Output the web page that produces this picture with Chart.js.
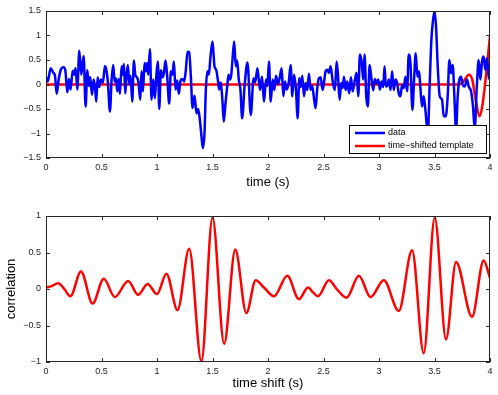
<!DOCTYPE html>
<html><head><meta charset="utf-8">
<script src="https://cdn.jsdelivr.net/npm/chart.js@4.4.0/dist/chart.umd.min.js"></script>
<style>
html,body{margin:0;padding:0;background:#fff;}
#w{position:relative;width:498px;height:395px;background:#fff;}
#c1{position:absolute;left:0;top:0;width:498px;height:200px;}
#c2{position:absolute;left:0;top:200px;width:498px;height:195px;}
</style></head><body>
<div id="w"><canvas id="c1" width="498" height="200"></canvas><canvas id="c2" width="498" height="195"></canvas></div>
<script>
// ---- data ----
const dataT = [0,0.015,0.042,0.066,0.081,0.096,0.114,0.135,0.156,0.174,0.192,0.207,0.222,0.24,0.252,0.267,0.282,0.3,0.318,0.339,0.357,0.372,0.387,0.399,0.414,0.429,0.441,0.453,0.465,0.48,0.495,0.513,0.531,0.546,0.558,0.576,0.591,0.606,0.618,0.63,0.642,0.654,0.666,0.681,0.693,0.702,0.714,0.726,0.738,0.75,0.762,0.777,0.792,0.804,0.819,0.834,0.849,0.861,0.873,0.888,0.9,0.912,0.921,0.936,0.951,0.966,0.981,0.993,1.008,1.02,1.035,1.05,1.062,1.077,1.092,1.11,1.125,1.14,1.152,1.167,1.182,1.197,1.212,1.23,1.245,1.26,1.275,1.29,1.305,1.32,1.338,1.356,1.371,1.386,1.398,1.413,1.428,1.44,1.455,1.467,1.482,1.5,1.518,1.533,1.548,1.56,1.575,1.59,1.602,1.617,1.632,1.644,1.656,1.668,1.68,1.695,1.71,1.722,1.737,1.752,1.767,1.79,1.815,1.845,1.87,1.885,1.905,1.928,1.946,1.964,1.982,1.994,2.009,2.024,2.042,2.057,2.072,2.09,2.105,2.123,2.138,2.153,2.168,2.186,2.204,2.219,2.234,2.252,2.267,2.282,2.294,2.309,2.324,2.339,2.354,2.369,2.384,2.399,2.414,2.429,2.444,2.459,2.474,2.492,2.504,2.519,2.534,2.549,2.564,2.576,2.588,2.603,2.618,2.63,2.645,2.66,2.672,2.684,2.699,2.714,2.732,2.747,2.762,2.78,2.798,2.813,2.828,2.843,2.858,2.87,2.885,2.9,2.915,2.93,2.948,2.963,2.978,2.993,3.008,3.023,3.038,3.05,3.062,3.074,3.089,3.104,3.118,3.133,3.148,3.163,3.178,3.193,3.208,3.223,3.238,3.253,3.268,3.283,3.301,3.316,3.331,3.346,3.361,3.373,3.388,3.403,3.418,3.44,3.457,3.472,3.487,3.5,3.514,3.529,3.547,3.568,3.583,3.601,3.619,3.634,3.649,3.664,3.679,3.694,3.709,3.724,3.739,3.754,3.772,3.793,3.808,3.829,3.847,3.862,3.883,3.898,3.913,3.928,3.943,3.958,3.973,3.988,4.0];
const dataV = [0.15,0.06,0.33,0.24,0.18,-0.19,0.1,0.31,0.35,0.29,-0.16,0.11,-0.1,0.28,0.2,0.33,-0.1,0.69,0.2,0.58,-0.45,0.29,-0.03,0.15,-0.21,0.1,-0.05,-0.35,0.15,-0.05,0.1,0.04,0.38,0.27,0.03,-0.55,0.1,0.4,0.06,0.13,-0.14,0.11,-0.19,0.37,0.2,0.42,-0.18,0.18,0.4,0.01,0.18,-0.35,0.49,0.2,0.15,0.03,-0.31,0.27,-0.14,0.44,0.27,0.44,0.2,0.72,-0.31,0.1,-0.28,0.15,0.47,-0.5,0.29,0.15,0.23,0.49,0.16,-0.39,0.27,0.2,0.47,-0.1,0.08,-0.19,0.08,0.11,0.06,0.3,0.67,0.66,0.16,-0.48,-0.23,-0.59,-0.5,-0.72,-0.99,-1.3,-0.99,-0.11,0.27,0.2,0.57,0.88,0.37,0.3,0.1,-0.1,0.04,-0.35,-0.76,-0.38,-0.05,0.2,0.1,0.18,0.5,0.88,0.37,0.49,0.1,-0.11,-0.69,0.0,0.45,-0.62,0.13,0.05,0.33,-0.11,0.16,-0.35,0.1,-0.03,0.47,-0.35,0.1,-0.11,0.18,0.01,0.13,0.33,-0.24,0.06,-0.1,0.03,0.4,-0.24,0.2,-0.1,-0.69,0.13,-0.05,0.18,-0.24,0.03,-0.11,0.22,-0.11,-0.03,-0.28,-0.48,-0.07,0.13,0.15,-0.11,0.03,0.27,0.3,0.24,0.37,0.18,-0.01,-0.11,0.47,0.2,-0.31,0.03,-0.07,0.16,-0.11,0.06,-0.18,0.15,-0.14,0.06,0.24,-0.24,0.61,0.47,0.1,0.61,-0.24,-0.45,0.4,0.16,-0.12,0.11,0.03,0.1,-0.1,0.06,-0.05,0.37,-0.04,-0.03,0.1,-0.11,0.27,-0.11,0.1,0.03,-0.18,-0.24,-0.01,-0.07,0.16,-0.14,0.61,0.44,-0.52,0.1,0.64,0.16,0.27,-0.07,-0.45,-0.24,-0.52,-1.0,0.03,0.91,1.32,1.49,1.18,0.37,-0.24,-0.31,-0.65,-0.65,-0.24,0.5,0.23,0.4,-0.24,-0.95,-0.24,0.1,0.16,-0.01,-0.04,0.1,-0.04,-0.14,-0.45,-0.9,0.03,0.5,0.1,0.47,0.57,0.3,0.54,0.16,0.1];
const templateT = [0,3.72,3.76,3.81,3.84,3.87,3.905,3.93,3.96,4.0];
const templateV = [0,0,0.06,0.2,0.1,-0.3,-0.65,-0.45,0.1,1.0];
const corrT = [0,0.05,0.11,0.17,0.22,0.315,0.42,0.52,0.62,0.74,0.83,0.915,1.0,1.085,1.185,1.29,1.4,1.5,1.605,1.705,1.805,1.889,1.964,2.054,2.174,2.279,2.36,2.408,2.45,2.549,2.624,2.708,2.819,2.924,3.043,3.178,3.298,3.403,3.502,3.604,3.694,3.838,3.943,4.0];
const corrV = [0.02,0.04,0.08,-0.01,-0.1,0.24,-0.2,0.14,-0.11,0.11,-0.08,0.07,-0.07,0.21,-0.29,0.55,-0.99,0.98,-0.75,0.54,-0.33,0.12,0.02,-0.1,0.18,-0.14,0.02,-0.05,-0.1,0.12,-0.01,-0.12,0.18,-0.11,0.12,-0.3,0.53,-0.88,0.98,-0.69,0.37,-0.38,0.39,0.15];
const xTicks = [0,0.5,1,1.5,2,2.5,3,3.5,4];
const labels = {data:'data', template:'time\u2212shifted template', x1:'time (s)', x2:'time shift (s)', y2:'correlation'};

// ---- helpers ----
const FONT = '"Liberation Sans", Arial, Helvetica, sans-serif';
const fmt = v => { const r = Math.round(v*100)/100; return (r<0?'\u2212':'') + String(Math.abs(r)); };
const pts = (t,v) => t.map((x,i)=>({x:x,y:v[i]}));

const framePlugin = {
  id:'frame',
  afterDatasetsDraw(chart){
    const {ctx, chartArea:a, scales} = chart;
    const L = 4;
    ctx.save();
    ctx.strokeStyle = '#262626';
    ctx.lineWidth = 1;
    ctx.beginPath();
    scales.x.ticks.forEach(t=>{
      const px = Math.round(scales.x.getPixelForValue(t.value))+0.5;
      ctx.moveTo(px,a.bottom); ctx.lineTo(px,a.bottom-L);
      ctx.moveTo(px,a.top); ctx.lineTo(px,a.top+L);
    });
    scales.y.ticks.forEach(t=>{
      const py = Math.round(scales.y.getPixelForValue(t.value))+0.5;
      ctx.moveTo(a.left,py); ctx.lineTo(a.left+L,py);
      ctx.moveTo(a.right,py); ctx.lineTo(a.right-L,py);
    });
    ctx.stroke();
    ctx.strokeRect(Math.round(a.left)+0.5, Math.round(a.top)+0.5, Math.round(a.right-a.left)-1, Math.round(a.bottom-a.top)-1);
    ctx.restore();
  }
};

const legendPlugin = {
  id:'boxLegend',
  afterDraw(chart){
    const {ctx, chartArea:a} = chart;
    const w = 137, h = 28;
    const x = a.right - 4 - w, y = a.bottom - 5 - h;
    ctx.save();
    ctx.fillStyle = '#fff';
    ctx.fillRect(x,y,w,h);
    ctx.strokeStyle = '#000'; ctx.lineWidth = 1;
    ctx.strokeRect(x+0.5,y+0.5,w,h);
    ctx.font = '9px ' + FONT;
    ctx.textBaseline = 'middle';
    chart.data.datasets.forEach((ds,i)=>{
      const yy = y + 8 + i*13;
      ctx.strokeStyle = ds.borderColor; ctx.lineWidth = 2.5;
      ctx.beginPath(); ctx.moveTo(x+6,yy); ctx.lineTo(x+36,yy); ctx.stroke();
      ctx.fillStyle = '#000';
      ctx.fillText(ds.label, x+39, yy);
    });
    ctx.restore();
  }
};

function xScale(title, padBottom){
  return {
    type:'linear', min:0, max:4,
    afterBuildTicks: s => { s.ticks = xTicks.map(v=>({value:v})); },
    ticks:{ callback: fmt, font:{family:FONT,size:9}, color:'#222', padding:4, maxRotation:0, autoSkip:false },
    grid:{ display:false, drawTicks:false },
    border:{ display:false },
    title:{ display:true, text:title, color:'#000', font:{family:FONT,size:13}, padding:{top:0,bottom:padBottom} }
  };
}
function yScale(min,max,title){
  const o = {
    type:'linear', min:min, max:max,
    ticks:{ stepSize:0.5, callback: fmt, font:{family:FONT,size:9}, color:'#222', padding:5 },
    grid:{ display:false, drawTicks:false },
    border:{ display:false },
    afterFit: s => { s.width = 46; }
  };
  if (title) o.title = { display:true, text:title, color:'#000', font:{family:FONT,size:13}, padding:{top:4,bottom:0} };
  return o;
}

const common = {
  responsive:false, animation:false, devicePixelRatio:1,
  plugins:{ legend:{display:false}, tooltip:{enabled:false} },
  elements:{ point:{radius:0}, line:{cubicInterpolationMode:'monotone'} }
};

new Chart(document.getElementById('c1'), {
  type:'line',
  data:{ datasets:[
    { label:labels.data, data:pts(dataT,dataV), borderColor:'#0000ff', borderWidth:2.5, fill:false },
    { label:labels.template, data:pts(templateT,templateV), borderColor:'#ff0000', borderWidth:2.5, fill:false }
  ]},
  options: Object.assign({}, common, {
    layout:{ padding:{ top:11, right:8, left:0, bottom:0 } },
    scales:{
      x: Object.assign(xScale(labels.x1, 10), { afterFit: s => { s.height = 42; } }),
      y: yScale(-1.5,1.5,null)
    }
  }),
  plugins:[framePlugin, legendPlugin]
});

new Chart(document.getElementById('c2'), {
  type:'line',
  data:{ datasets:[
    { label:'correlation', data:pts(corrT,corrV), borderColor:'#ff0000', borderWidth:2.5, fill:false }
  ]},
  options: Object.assign({}, common, {
    layout:{ padding:{ top:16, right:8, left:0, bottom:0 } },
    scales:{
      x: Object.assign(xScale(labels.x2, 4), { afterFit: s => { s.height = 33; } }),
      y: yScale(-1,1,labels.y2)
    }
  }),
  plugins:[framePlugin]
});
</script>
</body></html>
